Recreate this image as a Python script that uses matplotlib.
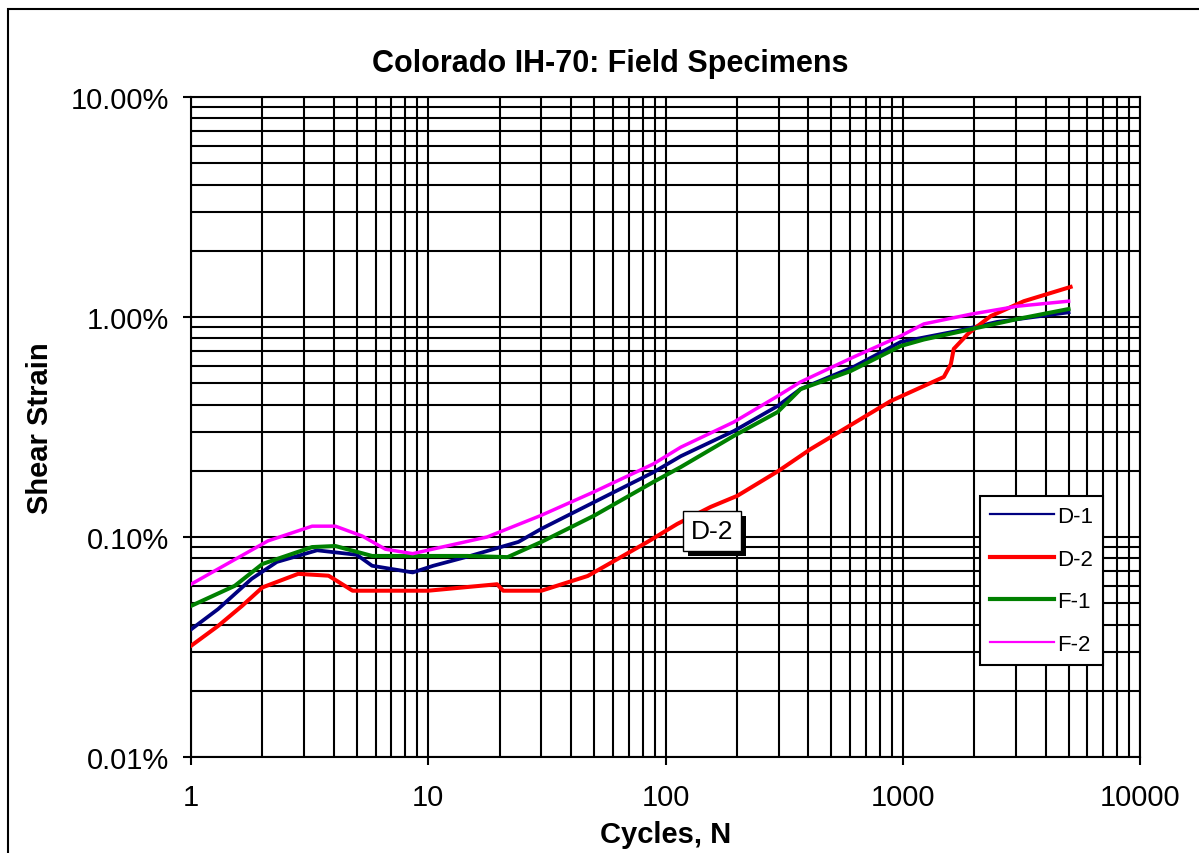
import matplotlib
matplotlib.use("Agg")
import matplotlib.pyplot as plt
from matplotlib.patches import Rectangle
from matplotlib import patheffects
from matplotlib.ticker import FixedLocator, FixedFormatter, NullFormatter, LogLocator

plt.rcParams['font.family'] = ['Liberation Sans', 'DejaVu Sans']

# ---- data (cycles N, shear strain in %) ----
d1_n = [1, 1.3, 1.8, 2.3, 3.4, 5.0, 5.8, 8.6, 10.5, 15, 24, 30, 50, 89, 116, 194, 297, 371, 620, 980, 1700, 2500, 5000]
d1_s = [0.038, 0.047, 0.0645, 0.077, 0.087, 0.083, 0.074, 0.069, 0.074, 0.082, 0.095, 0.109, 0.144, 0.197, 0.233,
        0.303, 0.394, 0.471, 0.593, 0.77, 0.864, 0.95, 1.05]

d2_n = [1, 1.3, 1.64, 2.0, 2.83, 3.8, 4.8, 10, 19.5, 20.7, 30, 47, 84, 112, 155, 201, 300, 409, 890, 1490, 1595,
        1640, 1880, 2070, 2350, 3240, 5100]
d2_s = [0.032, 0.0394, 0.0486, 0.059, 0.068, 0.0667, 0.057, 0.057, 0.061, 0.057, 0.057, 0.0665, 0.095, 0.1146,
        0.137, 0.154, 0.2, 0.251, 0.415, 0.534, 0.611, 0.716, 0.837, 0.91, 1.01, 1.18, 1.37]

f1_n = [1, 1.53, 2, 3.24, 4.06, 5.8, 9.1, 14.6, 21.6, 30, 50, 89, 116, 194, 297, 371, 603, 980, 1227, 1937, 3055, 5000]
f1_s = [0.0486, 0.06, 0.0754, 0.09, 0.091, 0.082, 0.082, 0.082, 0.081, 0.095, 0.125, 0.178, 0.208, 0.288, 0.37,
        0.47, 0.568, 0.738, 0.79, 0.88, 0.98, 1.087]

f2_n = [1, 1.53, 2.11, 3.24, 4.06, 5.27, 6.6, 8.6, 10.4, 17.7, 29.7, 49.7, 89, 116, 194, 297, 371, 621, 980, 1227,
        1937, 3055, 5000]
f2_s = [0.061, 0.079, 0.096, 0.112, 0.112, 0.101, 0.088, 0.084, 0.088, 0.1, 0.125, 0.16, 0.215, 0.256, 0.333,
        0.437, 0.507, 0.658, 0.82, 0.93, 1.03, 1.12, 1.18]

series_names = ["D-1", "D-2", "F-1", "F-2"]
series_colors = ["#000080", "#FF0000", "#008000", "#FF00FF"]

x_ticks = [1, 10, 100, 1000, 10000]
x_labels = ["1", "10", "100", "1000", "10000"]
y_ticks = [0.01, 0.1, 1, 10]
y_labels = ["0.01%", "0.10%", "1.00%", "10.00%"]

title = "Colorado IH-70: Field Specimens"
xlabel = "Cycles, N"
ylabel = "Shear Strain"

# ---- figure ----
W, H = 1199, 854
fig = plt.figure(figsize=(W / 100, H / 100), dpi=100)
ax = fig.add_axes([191 / W, 1 - 758 / H, (1140 - 191) / W, (758 - 98) / H])

widths = [2.7, 2.9, 2.9, 2.5]
legend_widths = [1.6, 3.0, 3.0, 1.6]
data = [(d1_n, d1_s), (d2_n, d2_s), (f1_n, f1_s), (f2_n, f2_s)]
for (n, s), name, c, lw in zip(data, series_names, series_colors, widths):
    ax.plot(n, s, color=c, lw=lw, label=name, zorder=3, solid_joinstyle='round')

ax.set_xscale('log')
ax.set_yscale('log')
ax.set_xlim(1, 10000)
ax.set_ylim(0.01, 10)

ax.xaxis.set_major_locator(FixedLocator(x_ticks))
ax.xaxis.set_major_formatter(FixedFormatter(x_labels))
ax.yaxis.set_major_locator(FixedLocator(y_ticks))
ax.yaxis.set_major_formatter(FixedFormatter(y_labels))
ax.xaxis.set_minor_locator(LogLocator(base=10, subs=range(2, 10)))
ax.yaxis.set_minor_locator(LogLocator(base=10, subs=range(2, 10)))
ax.xaxis.set_minor_formatter(NullFormatter())
ax.yaxis.set_minor_formatter(NullFormatter())

ax.grid(True, which='both', color='black', lw=1.5, zorder=1)
ax.set_axisbelow(True)
ax.tick_params(which='major', direction='out', length=6, width=1.5, color='black', labelsize=21)
ax.tick_params(axis='x', which='major', pad=13)
ax.tick_params(axis='y', which='major', pad=10)
ax.tick_params(which='minor', length=0)
for sp in ax.spines.values():
    sp.set_color('black')
    sp.set_linewidth(1.5)

ax.set_xlabel(xlabel, fontsize=21, fontweight='bold')
ax.set_ylabel(ylabel, fontsize=21, fontweight='bold')
ax.xaxis.label.set_va('center')
ax.xaxis.set_label_coords(0.5, (758 - 835) / 660)
ax.yaxis.label.set_va('center')
ax.yaxis.set_label_coords((40 - 191) / 949, 0.5)

fig.text(610 / W, 1 - 64 / H, title, fontsize=22, fontweight='bold', ha='center', va='center')

# legend
leg = ax.legend(loc='upper left', bbox_to_anchor=((980 - 191) / 949, (758 - 497) / 660),
                fontsize=16, frameon=True, fancybox=False, edgecolor='black', framealpha=1,
                handlelength=2.9, handletextpad=0.1, labelspacing=0.97, borderpad=0.45,
                borderaxespad=0)
leg.get_frame().set_linewidth(1.5)
leg.set_zorder(5)
for ln, lw in zip(leg.get_lines(), legend_widths):
    ln.set_linewidth(lw)

# data label box
t = ax.text((712 - 191) / 949, (758 - 532) / 660, "D-2", transform=ax.transAxes, fontsize=19,
            ha='center', va='center', zorder=6,
            bbox=dict(boxstyle='square,pad=0.3', facecolor='white', edgecolor='black', lw=1.0))
t.get_bbox_patch().set_path_effects([
    patheffects.SimplePatchShadow(offset=(3.5, -3.5), shadow_rgbFace='black', alpha=1.0),
    patheffects.Normal()])

# outer chart border
fig.patches.append(Rectangle((8 / W, -0.1), 1.2, 1.1 - 10 / H, transform=fig.transFigure,
                             fill=False, edgecolor='black', lw=1.5, clip_on=False))

fig.savefig("out.png", dpi=100)
